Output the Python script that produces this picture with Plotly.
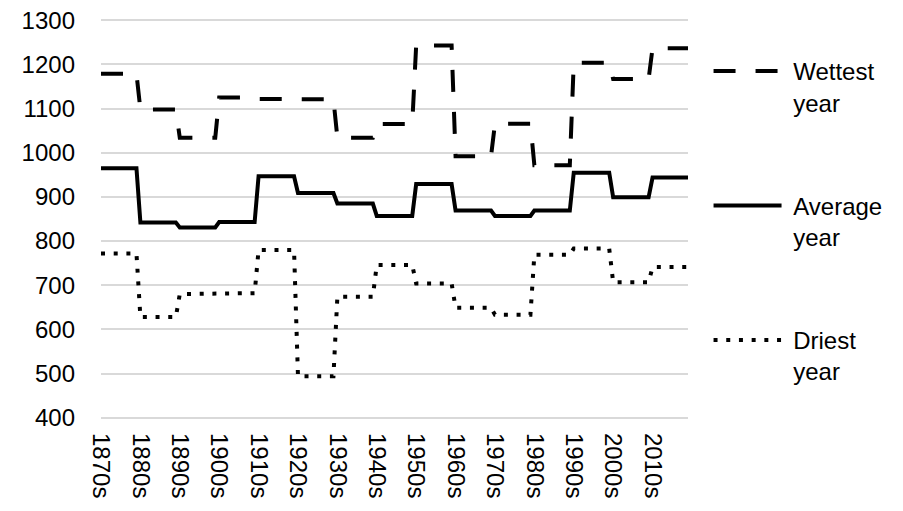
import plotly.graph_objects as go

decades = [1870, 1880, 1890, 1900, 1910, 1920, 1930, 1940, 1950, 1960, 1970, 1980, 1990, 2000, 2010]
decade_labels = [f"{d}s" for d in decades]

wettest = [1179, 1098, 1034, 1125, 1122, 1121, 1034, 1065, 1243, 992, 1066, 972, 1204, 1167, 1237]
average = [965, 842, 831, 843, 947, 909, 885, 857, 929, 869, 857, 869, 955, 899, 944]
driest = [772, 628, 680, 682, 780, 494, 674, 746, 704, 649, 633, 769, 783, 707, 741]
y_ticks = [400, 500, 600, 700, 800, 900, 1000, 1100, 1200, 1300]


def step_xy(values):
    xs, ys = [], []
    for d, v in zip(decades, values):
        xs += [d, d + 9]
        ys += [v, v]
    return xs, ys


FONT = "Liberation Sans, Arial, sans-serif"
fig = go.Figure()
series = [
    ("\u00a0Wettest<br>\u00a0year", wettest, "22px,20px", "g1"),
    ("\u00a0Average<br>\u00a0year", average, "solid", "g2"),
    ("\u00a0Driest<br>\u00a0year", driest, "4px,8.7px", "g3"),
]
for name, vals, dash, grp in series:
    xs, ys = step_xy(vals)
    fig.add_trace(go.Scatter(
        x=xs, y=ys, mode="lines", name=name, legendgroup=grp,
        line=dict(color="black", width=4, dash=dash),
    ))

fig.update_layout(
    width=903, height=511,
    margin=dict(l=93, r=223, t=11, b=100),
    paper_bgcolor="white", plot_bgcolor="white",
    font=dict(family=FONT, size=24, color="black"),
    showlegend=True,
    legend=dict(x=1.035, y=0.925, xanchor="left", yanchor="top",
                valign="top", tracegroupgap=69, itemwidth=68,
                font=dict(size=24), bgcolor="rgba(0,0,0,0)"),
)
fig.update_xaxes(range=[1870, 2019], tickvals=decades, ticktext=decade_labels,
                 tickangle=90, showgrid=False, zeroline=False, showline=False,
                 ticks="", ticklabelstandoff=13, automargin=False,
                 ticklabeloverflow="allow")
fig.update_yaxes(range=[397, 1303], tickvals=y_ticks, showgrid=True,
                 gridcolor="#d9d9d9", gridwidth=1.5, zeroline=False,
                 showline=False, ticks="", ticklabelstandoff=25, automargin=False,
                 ticklabeloverflow="allow")

fig.write_html("out.html")
